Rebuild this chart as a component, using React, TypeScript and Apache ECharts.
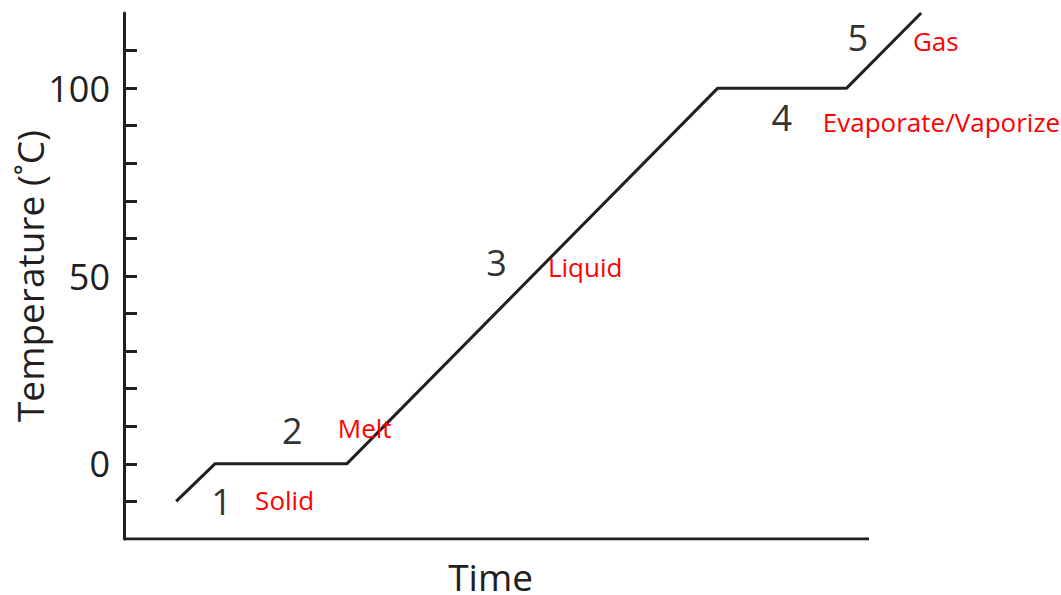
import React, { useEffect, useRef } from "react";
import * as echarts from "echarts";

// Heating curve of water: time (arbitrary units) vs temperature (°C)
const curveTime = [7, 12.2, 29.9, 79.7, 97.0, 107.0];
const curveTemp = [-10, 0, 0, 100, 100, 120];

// Extent of the drawn time axis
const timeAxisEnd = 100;

// Temperature ticks and the labelled values
const tempTicks = [-10, 0, 10, 20, 30, 40, 50, 60, 70, 80, 90, 100, 110];
const tempLabels = [0, 50, 100];

// Stage numbers along the curve
const stageNumbers = ["1", "2", "3", "4", "5"];
const stageNumberTime = [13.1, 22.6, 50.0, 88.3, 98.5];
const stageNumberTemp = [-10.1, 9.0, 53.7, 92.1, 113.4];

// State / process names next to each stage
const stageNames = ["Solid", "Melt", "Liquid", "Evaporate/Vaporize", "Gas"];
const stageNameTime = [17.6, 28.7, 56.9, 93.8, 105.9];
const stageNameTemp = [-9.6, 9.6, 52.4, 91.0, 112.6];

const INK = "#231f20";
const FONT = "Open Sans";
const PX_PER_UNIT = 7.45;
const X_MAX = 108;

export default function App() {
  const ref = useRef<HTMLDivElement>(null);

  useEffect(() => {
    document.body.style.margin = "0";
    if (!ref.current) return;
    const chart = echarts.init(ref.current, null, { renderer: "svg" });

    const left = 124;
    const right = 1061 - (left + X_MAX * PX_PER_UNIT);

    const option = {
      animation: false,
      backgroundColor: "#ffffff",
      grid: { left, right, top: 13, bottom: 56, containLabel: false, outerBoundsMode: "none" },
      xAxis: {
        type: "value",
        min: 0,
        max: X_MAX,
        axisLine: { show: false },
        axisTick: { show: false },
        axisLabel: { show: false },
        splitLine: { show: false },
      },
      yAxis: {
        type: "value",
        min: -20,
        max: 120,
        interval: 10,
        name: "Temperature (˚C)",
        nameLocation: "middle",
        nameGap: 76,
        nameMoveOverlap: false,
        nameRotate: 90,
        nameTextStyle: { color: INK, fontFamily: FONT, fontSize: 37 },
        axisLine: { show: true, lineStyle: { color: INK, width: 3 } },
        axisTick: {
          show: true,
          inside: true,
          length: 13,
          customValues: tempTicks,
          lineStyle: { color: INK, width: 3 },
        },
        axisLabel: {
          show: true,
          customValues: tempLabels,
          margin: 14,
          color: INK,
          fontFamily: FONT,
          fontSize: 36,
        },
        splitLine: { show: false },
      },
      series: [
        {
          // time axis baseline
          type: "line",
          data: [
            [0, -20],
            [timeAxisEnd, -20],
          ],
          symbol: "none",
          silent: true,
          lineStyle: { color: INK, width: 3 },
          z: 2,
        },
        {
          // time axis title, centred under the baseline
          type: "scatter",
          data: [{ value: [timeAxisEnd / 2 - 0.8, -20], name: "Time" }],
          symbolSize: 0,
          clip: false,
          silent: true,
          itemStyle: { opacity: 1 },
          label: {
            show: true,
            position: "bottom",
            distance: 21,
            formatter: (p: any) => p.name,
            color: INK,
            fontFamily: FONT,
            fontSize: 37,
            lineHeight: 33,
          },
          z: 2,
        },
        {
          type: "line",
          data: curveTime.map((t, i) => [t, curveTemp[i]]),
          symbol: "none",
          clip: false,
          lineStyle: { color: INK, width: 3 },
          z: 3,
        },
        {
          type: "scatter",
          data: stageNumbers.map((n, i) => ({ value: [stageNumberTime[i], stageNumberTemp[i]], name: n })),
          symbolSize: 0,
          clip: false,
          silent: true,
          itemStyle: { opacity: 1 },
          label: {
            show: true,
            position: "inside",
            formatter: (p: any) => p.name,
            color: "#333333",
            fontFamily: FONT,
            fontSize: 36,
            lineHeight: 36,
          },
          z: 4,
        },
        {
          type: "scatter",
          data: stageNames.map((n, i) => ({ value: [stageNameTime[i], stageNameTemp[i]], name: n })),
          symbolSize: 0,
          clip: false,
          silent: true,
          itemStyle: { opacity: 1 },
          label: {
            show: true,
            position: "right",
            distance: 0,
            formatter: (p: any) => p.name,
            color: "#ff0000",
            fontFamily: FONT,
            fontSize: 26,
            lineHeight: 26,
          },
          z: 5,
        },
      ],
    };

    chart.setOption(option as any);
    return () => chart.dispose();
  }, []);

  return <div ref={ref} style={{ width: 1061, height: 595 }} />;
}
